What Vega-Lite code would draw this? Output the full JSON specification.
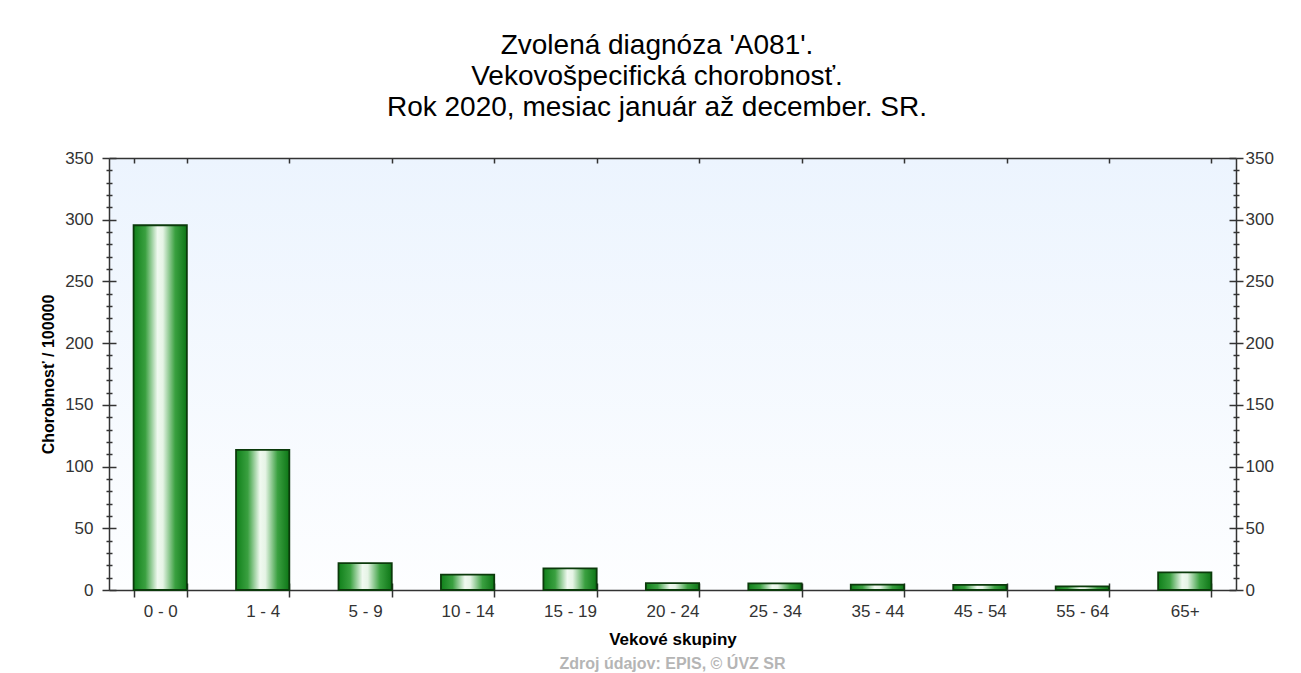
{
  "$schema": "https://vega.github.io/schema/vega-lite/v6.json",
  "background": "white",
  "padding": {"left": 40, "top": 32, "right": 20, "bottom": 0},
  "config": {
    "font": "Liberation Sans",
    "view": {"stroke": null},
    "axis": {"grid": false, "domainColor": "#333333", "tickColor": "#333333", "domainWidth": 1.5, "tickWidth": 1.5, "labelColor": "#333333", "labelFont": "Liberation Sans", "titleFont": "Liberation Sans"},
    "title": {"font": "Liberation Sans"}
  },
  "title": {
    "text": ["Zvolená diagnóza 'A081'.", "Vekovošpecifická chorobnosť.", "Rok 2020, mesiac január až december. SR."],
    "fontSize": 28,
    "fontWeight": "normal",
    "color": "#000000",
    "lineHeight": 31,
    "anchor": "middle",
    "offset": 27
  },
  "vconcat": [
    {
      "width": 1127,
      "height": 432,
      "view": {
        "stroke": null,
        "fill": {"gradient": "linear", "x1": 0, "y1": 0, "x2": 0, "y2": 1, "stops": [{"offset": 0, "color": "#ecf4fe"}, {"offset": 1, "color": "#fdfeff"}]}
      },
      "title": {
        "text": "Zdroj údajov: EPIS, © ÚVZ SR",
        "orient": "bottom",
        "fontSize": 16,
        "fontWeight": "bold",
        "color": "#b5b5b5",
        "anchor": "middle",
        "offset": 9
      },
      "data": {
        "values": [
          {"g": "0 - 0", "v": 295.5},
          {"g": "1 - 4", "v": 113.5},
          {"g": "5 - 9", "v": 21.7},
          {"g": "10 - 14", "v": 12.5},
          {"g": "15 - 19", "v": 17.5},
          {"g": "20 - 24", "v": 5.5},
          {"g": "25 - 34", "v": 5.3},
          {"g": "35 - 44", "v": 4.4},
          {"g": "45 - 54", "v": 4.2},
          {"g": "55 - 64", "v": 3.0},
          {"g": "65+", "v": 14.2}
        ]
      },
      "resolve": {"axis": {"x": "independent", "y": "independent"}},
      "layer": [
        {
          "mark": {
            "type": "bar",
            "stroke": "#0b3a0b",
            "strokeWidth": 1.8,
            "color": {"gradient": "linear", "x1": 0, "y1": 0, "x2": 1, "y2": 0, "stops": [
              {"offset": 0, "color": "#10801a"},
              {"offset": 0.22, "color": "#3aa040"},
              {"offset": 0.45, "color": "#f0f9f0"},
              {"offset": 0.55, "color": "#e6f4e6"},
              {"offset": 0.78, "color": "#3aa040"},
              {"offset": 1, "color": "#0d7616"}
            ]}
          },
          "encoding": {
            "x": {"field": "g", "type": "nominal", "sort": null,
              "scale": {"paddingInner": 0.48, "paddingOuter": 0.24},
              "axis": {"orient": "bottom", "tickBand": "extent", "tickSize": 7, "labelAngle": 0, "labelPadding": 6, "labelFontSize": 17, "title": "Vekové skupiny", "titleFontSize": 17, "titleFontWeight": "bold", "titleColor": "#000000", "titlePadding": 12}},
            "y": {"field": "v", "type": "quantitative",
              "scale": {"domain": [0, 350], "nice": false},
              "axis": {"orient": "left", "values": [0,10,20,30,40,50,60,70,80,90,100,110,120,130,140,150,160,170,180,190,200,210,220,230,240,250,260,270,280,290,300,310,320,330,340,350],
                "tickSize": {"condition": {"test": "datum.value % 50 === 0", "value": 7}, "value": 3},
                "labelExpr": "datum.value % 50 === 0 ? datum.label : ''", "labelOverlap": false, "labelFontSize": 17, "labelPadding": 9,
                "title": "Chorobnosť / 100000", "titleFontSize": 16, "titleFontWeight": "bold", "titleColor": "#000000", "titlePadding": 8}}
          }
        },
        {
          "mark": {"type": "bar", "opacity": 0},
          "encoding": {
            "x": {"field": "g", "type": "nominal", "sort": null,
              "axis": {"orient": "bottom", "tickBand": "extent", "tickSize": -7, "labels": false, "domain": false, "title": null}},
            "y": {"field": "v", "type": "quantitative",
              "axis": {"orient": "left", "values": [0,10,20,30,40,50,60,70,80,90,100,110,120,130,140,150,160,170,180,190,200,210,220,230,240,250,260,270,280,290,300,310,320,330,340,350],
                "tickSize": {"condition": {"test": "datum.value % 50 === 0", "value": -7}, "value": -3}, "labels": false, "domain": false, "title": null}}
          }
        },
        {
          "mark": {"type": "bar", "opacity": 0},
          "encoding": {
            "x": {"field": "g", "type": "nominal", "sort": null,
              "axis": {"orient": "top", "tickBand": "extent", "tickSize": -5, "labels": false, "domain": true, "title": null}},
            "y": {"field": "v", "type": "quantitative",
              "axis": {"orient": "right", "values": [0,10,20,30,40,50,60,70,80,90,100,110,120,130,140,150,160,170,180,190,200,210,220,230,240,250,260,270,280,290,300,310,320,330,340,350],
                "tickSize": {"condition": {"test": "datum.value % 50 === 0", "value": 7}, "value": 3},
                "labelExpr": "datum.value % 50 === 0 ? datum.label : ''", "labelOverlap": false, "labelFontSize": 17, "labelPadding": 2, "title": null}}
          }
        },
        {
          "mark": {"type": "bar", "opacity": 0},
          "encoding": {
            "x": {"field": "g", "type": "nominal", "sort": null, "axis": null},
            "y": {"field": "v", "type": "quantitative",
              "axis": {"orient": "right", "values": [0,10,20,30,40,50,60,70,80,90,100,110,120,130,140,150,160,170,180,190,200,210,220,230,240,250,260,270,280,290,300,310,320,330,340,350],
                "tickSize": {"condition": {"test": "datum.value % 50 === 0", "value": -7}, "value": -3}, "labels": false, "domain": false, "title": null}}
          }
        }
      ]
    }
  ]
}
